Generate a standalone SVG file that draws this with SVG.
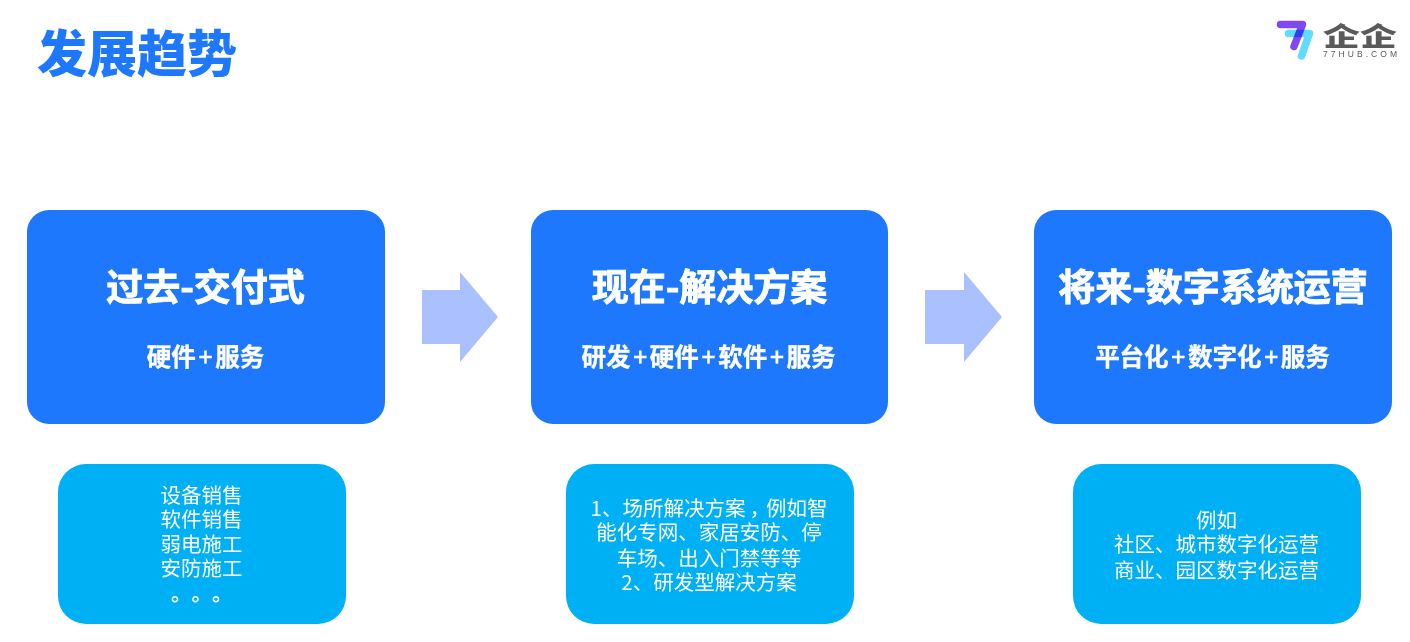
<svg xmlns="http://www.w3.org/2000/svg" width="1410" height="642" viewBox="0 0 1410 642">
<style>
text{font-family:"Noto Sans CJK SC","Noto Sans",sans-serif;text-anchor:middle;fill:#fff}
.b{fill:#1e78fd}.c{fill:#00b0f5}.a{fill:#abc1ff}
.h{font-size:37px;font-weight:700;stroke:#fff;stroke-width:.9px}
.s{font-size:24.5px;font-weight:700;stroke:#fff;stroke-width:.35px}
.t{font-size:20.5px}
.p{font-weight:500}
.m{fill:none;stroke-width:7.5px;stroke-linecap:round;stroke-linejoin:round}
</style>
<rect width="1410" height="642" fill="#fff"/>
<text id="title" x="137" y="72" style="font-size:50px;font-weight:900;fill:#1e78fd">发展趋势</text>
<g id="logo">
<path class="m" d="M1288.500 33.500H1309.500L1301.500 56" stroke="#5fdcff"/>
<path class="m" d="M1280.500 24.500H1302.500L1294 46.500" stroke="#8048f0" style="mix-blend-mode:multiply"/>
<text transform="translate(1360 45.500) scale(1 .72)" style="font-size:37px;font-weight:900;fill:#5a5a5a">企企</text>
<text x="1323" y="57" textLength="74" style="text-anchor:start;font-family:'Liberation Sans',sans-serif;font-size:8.5px;fill:#5a5a5a">77HUB.COM</text>
</g>
<g id="node-past">
<rect class="b" x="27" y="210" width="358" height="214" rx="22"/>
<text class="h" x="205.500" y="301">过去-交付式</text>
<text class="s" x="205.500" y="366">硬件<tspan class="p" dx="2.700">+</tspan><tspan dx="2.700">服务</tspan></text>
</g>
<g id="node-present">
<rect class="b" x="531" y="210" width="357" height="214" rx="22"/>
<text class="h" x="709.500" y="301">现在-解决方案</text>
<text class="s" x="708.500" y="366">研发<tspan class="p" dx="2.700">+</tspan><tspan dx="2.700">硬件</tspan><tspan class="p" dx="2.700">+</tspan><tspan dx="2.700">软件</tspan><tspan class="p" dx="2.700">+</tspan><tspan dx="2.700">服务</tspan></text>
</g>
<g id="node-future">
<rect class="b" x="1034" y="210" width="358" height="214" rx="22"/>
<text class="h" x="1213" y="301">将来-数字系统运营</text>
<text class="s" x="1212.500" y="366">平台化<tspan class="p" dx="2.700">+</tspan><tspan dx="2.700">数字化</tspan><tspan class="p" dx="2.700">+</tspan><tspan dx="2.700">服务</tspan></text>
</g>
<g id="node-past-detail">
<rect class="c" x="58" y="464" width="288" height="160" rx="28"/>
<text class="t" x="201.500" y="502.500">设备销售</text>
<text class="t" x="201.500" y="526.500">软件销售</text>
<text class="t" x="201.500" y="551.500">弱电施工</text>
<text class="t" x="201.500" y="575.500">安防施工</text>
<text class="t" x="171 191.500 212" y="601" style="text-anchor:start;font-weight:700">。。。</text>
</g>
<g id="node-present-detail">
<rect class="c" x="566" y="464" width="288" height="160" rx="28"/>
<text class="t" x="709" y="515.500">1、场所解决方案<tspan dx="4">，</tspan><tspan dx="-4">例如智</tspan></text>
<text class="t" x="709" y="539.500">能化专网、家居安防、停</text>
<text class="t" x="709" y="565.500">车场、出入门禁等等</text>
<text class="t" x="709" y="589.500">2、研发型解决方案</text>
</g>
<g id="node-future-detail">
<rect class="c" x="1073" y="464" width="288" height="160" rx="28"/>
<text class="t" x="1216.500" y="527.500">例如</text>
<text class="t" x="1216.500" y="551.500">社区、城市数字化运营</text>
<text class="t" x="1216.500" y="577.500">商业、园区数字化运营</text>
</g>
<g id="connectors">
<polygon class="a" points="422,290 460,290 460,272 498,317 460,362 460,344 422,344"/>
<polygon class="a" points="925,290 964,290 964,272 1002,317 964,362 964,344 925,344"/>
</g>
</svg>
